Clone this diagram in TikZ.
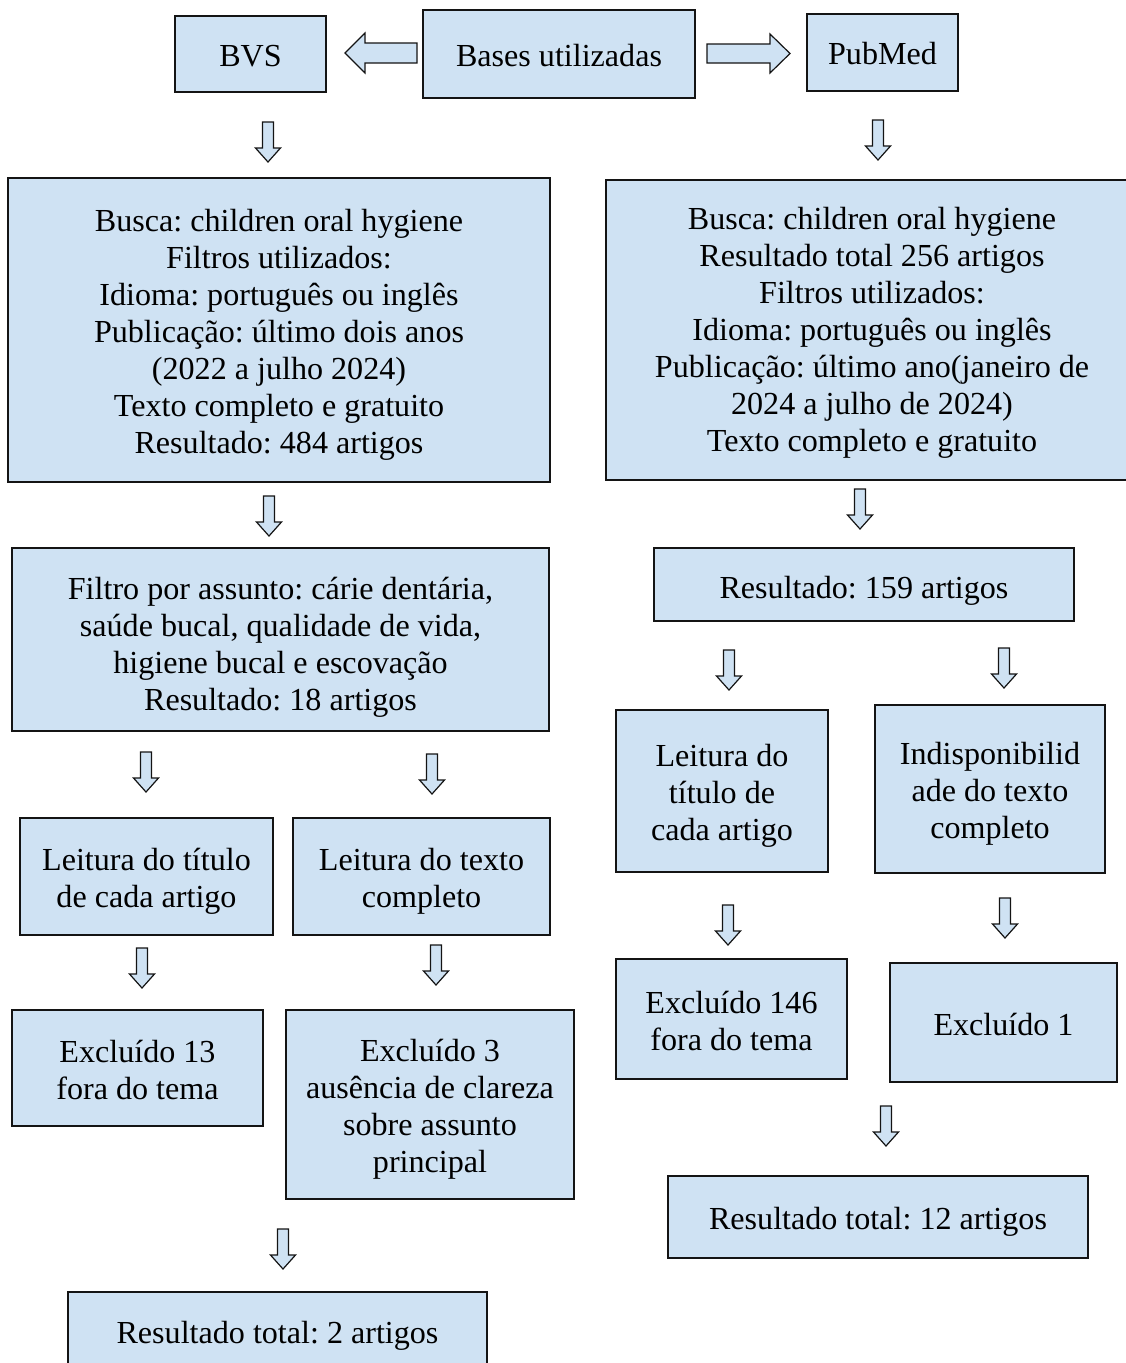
\documentclass[tikz,border=0pt]{standalone}
\usepackage{fontspec}
\setmainfont{Liberation Serif}
\frenchspacing
\definecolor{boxblue}{RGB}{207,226,243}
\definecolor{edge}{RGB}{20,20,20}
\tikzset{
  box/.style={draw=edge, fill=boxblue, line width=1.4pt, inner sep=0pt},
  txt/.style={align=center, inner sep=0pt, font=\fontsize{32.1}{37}\selectfont, text=black},
  arrowshape/.style={draw=edge, fill=boxblue, line width=1.2pt, line join=miter},
  downarr/.pic={\path[arrowshape] (-5.5,0) -- (5.5,0) -- (5.5,26) -- (12.5,26) -- (0,40) -- (-12.5,26) -- (-5.5,26) -- cycle;},
  leftarr/.pic={\path[arrowshape] (0,0) -- (20,-20) -- (20,-10) -- (72,-10) -- (72,10) -- (20,10) -- (20,20) -- cycle;},
  rightarr/.pic={\path[arrowshape] (0,0) -- (-20,-19.5) -- (-20,-9.5) -- (-83,-9.5) -- (-83,9.5) -- (-20,9.5) -- (-20,19.5) -- cycle;}
}
\begin{document}
\begin{tikzpicture}[x=1pt,y=-1pt]
\useasboundingbox (0,0) rectangle (1126,1363);
% top row
\node[box, minimum width=151, minimum height=76] (bvs) at (250.5,54) {};
\node[txt] (bvst) at ([yshift=-2]bvs.center) {BVS};
\node[box, minimum width=272, minimum height=88] (bases) at (559,54) {};
\node[txt] (basest) at ([yshift=-2]bases.center) {Bases utilizadas};
\node[box, minimum width=151, minimum height=77] (pubmed) at (882.5,52.5) {};
\node[txt] (pubmedt) at ([yshift=-1]pubmed.center) {PubMed};
\pic (aleft) at (345,53) {leftarr};
\pic (aright) at (790,53.5) {rightarr};
% left column
\node[box, minimum width=542, minimum height=304] (l1) at (279,330) {};
\node[txt] (l1t) at ([yshift=-4.5]l1.center) {Busca: children oral hygiene\\Filtros utilizados:\\Idioma: português ou inglês\\Publicação: último dois anos\\(2022 a julho 2024)\\Texto completo e gratuito\\Resultado: 484 artigos};
\node[box, minimum width=537, minimum height=183] (l2) at (280.5,639.5) {};
\node[txt] (l2t) at ([yshift=-7.5]l2.center) {Filtro por assunto: cárie dentária,\\saúde bucal, qualidade de vida,\\higiene bucal e escovação\\Resultado: 18 artigos};
\node[box, minimum width=253, minimum height=117] (l3a) at (146.5,876.5) {};
\node[txt] (l3at) at ([yshift=-5]l3a.center) {Leitura do título\\de cada artigo};
\node[box, minimum width=257, minimum height=117] (l3b) at (421.5,876.5) {};
\node[txt] (l3bt) at ([yshift=-5]l3b.center) {Leitura do texto\\completo};
\node[box, minimum width=251, minimum height=116] (l4a) at (137.5,1068) {};
\node[txt] (l4at) at ([yshift=-1.5]l4a.center) {Excluído 13\\fora do tema};
\node[box, minimum width=288, minimum height=189] (l4b) at (430,1104.5) {};
\node[txt] (l4bt) at ([yshift=-5]l4b.center) {Excluído 3\\ausência de clareza\\sobre assunto\\principal};
\node[box, minimum width=419, minimum height=82] (l5) at (277.5,1333) {};
\node[txt] (l5t) at ([yshift=-3]l5.center) {Resultado total: 2 artigos};
% right column
\node[box, minimum width=532, minimum height=300] (r1) at (872,330) {};
\node[txt] (r1t) at ([yshift=-2.5]r1.center) {Busca: children oral hygiene\\Resultado total 256 artigos\\Filtros utilizados:\\Idioma: português ou inglês\\Publicação: último ano(janeiro de\\2024 a julho de 2024)\\Texto completo e gratuito};
\node[box, minimum width=420, minimum height=73] (r2) at (864,584.5) {};
\node[txt] (r2t) at ([yshift=-6]r2.center) {Resultado: 159 artigos};
\node[box, minimum width=212, minimum height=162] (r3a) at (722,791) {};
\node[txt] (r3at) at ([yshift=-5]r3a.center) {Leitura do\\título de\\cada artigo};
\node[box, minimum width=230, minimum height=168] (r3b) at (990,789) {};
\node[txt] (r3bt) at ([yshift=-5]r3b.center) {Indisponibilid\\ade do texto\\completo};
\node[box, minimum width=231, minimum height=120] (r4a) at (731.5,1019) {};
\node[txt] (r4at) at ([yshift=-2]r4a.center) {Excluído 146\\fora do tema};
\node[box, minimum width=227, minimum height=119] (r4b) at (1003.5,1022.5) {};
\node[txt] (r4bt) at ([yshift=-2]r4b.center) {Excluído 1};
\node[box, minimum width=420, minimum height=82] (r5) at (878,1217) {};
\node[txt] (r5t) at ([yshift=-5]r5.center) {Resultado total: 12 artigos};
% down arrows
\pic (d1) at (268,122) {downarr};
\pic (d2) at (878,120) {downarr};
\pic (d3) at (269,496) {downarr};
\pic (d4) at (860,489) {downarr};
\pic (d5) at (146,752) {downarr};
\pic (d6) at (432,754) {downarr};
\pic (d7) at (729,650) {downarr};
\pic (d8) at (1004,648) {downarr};
\pic (d9) at (142,948) {downarr};
\pic (d10) at (436,945) {downarr};
\pic (d11) at (728,905) {downarr};
\pic (d12) at (1005,898) {downarr};
\pic (d13) at (886,1106) {downarr};
\pic (d14) at (283,1229) {downarr};
\end{tikzpicture}
\end{document}
